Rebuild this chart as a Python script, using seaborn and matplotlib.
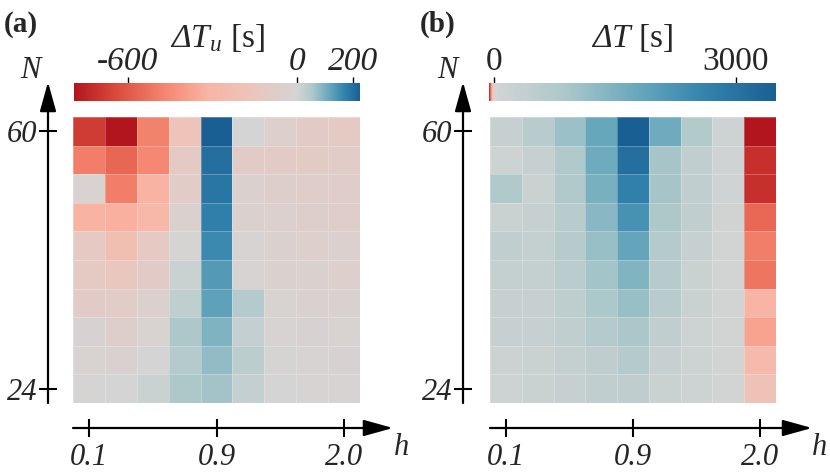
import numpy as np
import pandas as pd
import seaborn as sns
import matplotlib.pyplot as plt
from matplotlib.colors import LinearSegmentedColormap

# grid of the two maps
h_vals = [0.1, 0.3, 0.5, 0.7, 0.9, 1.2, 1.5, 1.8, 2.0]
N_vals = [60, 56, 52, 48, 44, 40, 36, 32, 28, 24]
h_shown = ['0.1', '0.9', '2.0']

# (a) delta T_u [s], rows N=60 (top) ... 24 (bottom)
dTu = [
    [-680, -790, -480, -180, 225, 0, -50, -90, -110],
    [-490, -560, -460, -110, 200, -90, -95, -100, -85],
    [-25, -490, -320, -85, 190, -40, -60, -75, -80],
    [-320, -330, -280, -40, 175, -40, -45, -60, -70],
    [-120, -220, -120, -5, 160, -15, -40, -50, -45],
    [-115, -140, -90, 15, 135, -10, -40, -40, -50],
    [-90, -85, -45, 30, 125, 45, -25, -30, -30],
    [-20, -60, -25, 55, 95, 25, -15, -20, -25],
    [-25, -35, 0, 45, 80, 35, -5, -10, -20],
    [-5, 0, 15, 55, 65, 25, 0, -10, -10],
]

# (b) delta T [s]
dT = [
    [300, 600, 1100, 1800, 3500, 1700, 750, 150, -60],
    [150, 300, 800, 1700, 3100, 950, 450, 80, -54],
    [800, 250, 780, 1550, 2700, 950, 420, 80, -54],
    [220, 320, 620, 1350, 2300, 850, 420, 60, -42],
    [420, 350, 650, 1150, 1850, 720, 300, 50, -37],
    [350, 350, 580, 1000, 1450, 650, 250, 50, -39],
    [300, 320, 500, 880, 1150, 600, 220, 50, -23],
    [300, 300, 420, 720, 900, 450, 150, 50, -28],
    [180, 250, 350, 480, 700, 320, 150, 50, -20],
    [150, 220, 300, 420, 480, 250, 150, 50, -14],
]

reds = ['#b2151b', '#dc4d3e', '#f4846e', '#f9b4a3', '#ecc5bc']
grey = '#d4d4d4'
blues = ['#adc8ca', '#6aa9bd', '#3283ad', '#1a5f93']


def make_cmap(vmin, vmax):
    # grey sits at zero, reds below, blues above
    p = -vmin / (vmax - vmin)
    nodes = [(p * i / len(reds), c) for i, c in enumerate(reds)]
    nodes.append((p, grey))
    nodes += [(p + (1 - p) * (i + 1) / len(blues), c) for i, c in enumerate(blues)]
    # many levels, otherwise the thin red end of (b) gets only a few colours
    return LinearSegmentedColormap.from_list('redgrey', nodes, N=8192)


sns.set_theme(style='white')
plt.rcParams['font.family'] = ['Liberation Serif', 'DejaVu Serif']
plt.rcParams['mathtext.fontset'] = 'custom'
# both italic so that the Greek capital is slanted too
plt.rcParams['mathtext.rm'] = 'Liberation Serif:italic'
plt.rcParams['mathtext.it'] = 'Liberation Serif:italic'

W, H = 830, 473
fig = plt.figure(figsize=(W / 100, H / 100), dpi=100)


def fx(px):
    return px / W


def fy(py):
    return 1 - py / H


panels = [
    dict(data=dTu, vmin=-790, vmax=225, ticks=[-600, 0, 200], italic=True,
         title=r'$ΔT_u$ [s]', tag='(a)',
         ax=[73, 360], cax=[74, 360], yaxis=48, xtip=393, tagx=21, Nx=30, hx=402),
    dict(data=dT, vmin=-60, vmax=3500, ticks=[0, 3000], italic=False,
         title=r'$ΔT$ [s]', tag='(b)',
         ax=[490, 776], cax=[489, 776], yaxis=463, xtip=812, tagx=438, Nx=447, hx=820),
]

for p in panels:
    x0, x1 = p['ax']
    ax = fig.add_axes([fx(x0), fy(403), fx(x1 - x0), (403 - 117) / H])
    c0, c1 = p['cax']
    cax = fig.add_axes([fx(c0), fy(101), fx(c1 - c0), 18 / H])

    df = pd.DataFrame(p['data'], index=N_vals, columns=h_vals)
    sns.heatmap(df, ax=ax, cmap=make_cmap(p['vmin'], p['vmax']),
                vmin=p['vmin'], vmax=p['vmax'], cbar_ax=cax,
                cbar_kws={'orientation': 'horizontal'},
                linewidths=0.6, linecolor=(1, 1, 1, 0.25))

    # axis decorations: ticks on shifted invisible spines + arrows
    off_y = x0 - p['yaxis']
    ax.spines['left'].set_position(('outward', off_y * 0.72))
    ax.spines['bottom'].set_position(('outward', 25 * 0.72))
    ax.set_yticks([0.5, len(N_vals) - 0.5])
    ax.set_yticklabels([str(N_vals[0]), str(N_vals[-1])], rotation=0,
                       fontstyle='italic', fontsize=22)
    ax.set_xticks([0.5, 4.5, 8.5])
    ax.set_xticklabels(h_shown, rotation=0, fontstyle='italic', fontsize=22)
    ax.tick_params(axis='both', direction='inout', length=13, width=1.5,
                   color='black', left=True, bottom=True)
    ax.tick_params(axis='y', pad=1)
    ax.tick_params(axis='x', pad=4)
    ax.set_xlabel('')
    ax.set_ylabel('')

    arrow = dict(arrowstyle='-|>,head_length=0.9,head_width=0.25', color='black',
                 lw=1.6, mutation_scale=20, shrinkA=0, shrinkB=0)
    ax.annotate('', xy=(-off_y, 403 - 82), xycoords='axes pixels',
                xytext=(-off_y, 0), textcoords='axes pixels',
                arrowprops=arrow, annotation_clip=False)
    ax.annotate('', xy=(p['xtip'] - x0, -25), xycoords='axes pixels',
                xytext=(0, -25), textcoords='axes pixels',
                arrowprops=arrow, annotation_clip=False)

    # colorbar on top
    cbar = ax.collections[0].colorbar
    cbar.outline.set_visible(False)
    cbar.set_ticks(p['ticks'])
    cax.xaxis.set_ticks_position('top')
    cax.xaxis.set_label_position('top')
    cax.tick_params(axis='x', direction='out', length=4, width=1, color='black',
                    labelsize=24, pad=0, top=True, bottom=False)
    cax.set_xticklabels([str(t) for t in p['ticks']],
                        fontstyle='italic' if p['italic'] else 'normal')
    cax.set_xlabel(p['title'], fontsize=24, labelpad=0)

    fig.text(fx(p['tagx']), fy(24), p['tag'], fontsize=21, fontweight='bold',
             ha='center', va='center')
    fig.text(fx(p['Nx']), fy(71), 'N', fontsize=22, fontstyle='italic',
             ha='center', va='center')
    fig.text(fx(p['hx']), fy(447), 'h', fontsize=22, fontstyle='italic',
             ha='center', va='center')

fig.savefig('out.png', dpi=100)
